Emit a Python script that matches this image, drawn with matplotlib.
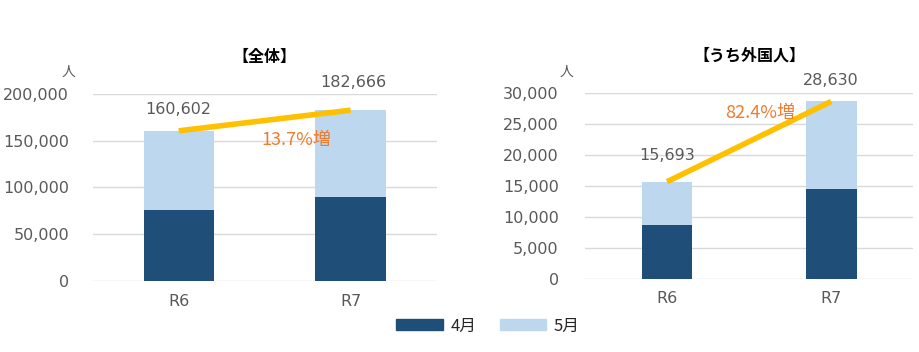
import matplotlib
matplotlib.use("Agg")
import matplotlib.pyplot as plt
from matplotlib.patches import Patch

plt.rcParams['font.family'] = ['DejaVu Sans', 'Noto Sans CJK JP']
CJK = ['Noto Sans CJK JP', 'DejaVu Sans']

categories = ["R6", "R7"]
total_april = [76000, 90000]
total_totals = [160602, 182666]
foreign_april = [8700, 14500]
foreign_totals = [15693, 28630]
series_names = ["4月", "5月"]
titles = ["【全体】", "【うち外国人】"]
growth_labels = ["13.7%増", "82.4%増"]

c_apr = "#1F4E79"
c_may = "#BDD7EE"
c_line = "#FFC000"
c_txt = "#595959"
c_orange = "#ED7D31"

fig = plt.figure(figsize=(9.19, 3.52), dpi=100)
ax1 = fig.add_axes([0.101, 0.2017, 0.374, 0.5313])
ax2 = fig.add_axes([0.6366, 0.2074, 0.357, 0.5284])

def draw(ax, april, totals, ymax, step, width, title, glabel, gpos, offs, title_y, pad):
    x = list(range(len(categories)))
    may = [t - a for t, a in zip(totals, april)]
    ax.bar(x, april, width=width, color=c_apr, zorder=2)
    ax.bar(x, may, bottom=april, width=width, color=c_may, zorder=2)
    ax.plot(x, totals, color=c_line, lw=4, solid_capstyle='butt', zorder=3)
    for xi, t, o in zip(x, totals, offs):
        ax.annotate(f"{t:,}", (xi, t), xytext=(o[0], o[1]), textcoords='offset points',
                    ha='center', va='center', fontsize=11.5, color=c_txt)
    ax.text(gpos[0], gpos[1], glabel, ha='center', va='center', fontsize=13,
            color=c_orange, zorder=4, family=CJK)
    ax.set_xlim(-0.5, len(categories) - 0.5)
    ax.set_ylim(0, ymax)
    ticks = list(range(0, ymax + 1, step))
    ax.set_yticks(ticks)
    ax.set_yticklabels([f"{t:,}" for t in ticks])
    ax.set_xticks(x)
    ax.set_xticklabels(categories)
    ax.tick_params(axis='both', length=0, labelsize=11.5, colors=c_txt)
    ax.tick_params(axis='y', pad=pad)
    ax.tick_params(axis='x', pad=9)
    ax.grid(axis='y', color="#D9D9D9", lw=1, zorder=0)
    for s in ax.spines.values():
        s.set_visible(False)
    ax.text(0.5, title_y, title, transform=ax.transAxes, ha='center', va='center',
            fontsize=11.5, fontweight='bold', color='black', family=CJK)

draw(ax1, total_april, total_totals, 200000, 50000, 0.41, titles[0], growth_labels[0],
     (0.686, 150800), [(0, 15), (2, 20)], 1.20, 17)
draw(ax2, foreign_april, foreign_totals, 30000, 5000, 0.31, titles[1], growth_labels[1],
     (0.567, 26820), [(0, 19), (0, 15)], 1.20, 19)

fig.text(69 / 919, 1 - 72 / 352, "人", ha='center', va='center', fontsize=10,
         color=c_txt, family=CJK)
fig.text(566 / 919, 1 - 72 / 352, "人", ha='center', va='center', fontsize=10,
         color=c_txt, family=CJK)

handles = [Patch(color=c_apr), Patch(color=c_may)]
fig.legend(handles, series_names, loc='center', bbox_to_anchor=(488 / 919, 1 - 326 / 352),
           ncol=2, frameon=False, fontsize=12, handlelength=2.8, handleheight=0.65,
           columnspacing=1.4, handletextpad=0.45, labelcolor='#262626',
           prop={'family': CJK, 'size': 12})

fig.savefig("out.png", dpi=100)
